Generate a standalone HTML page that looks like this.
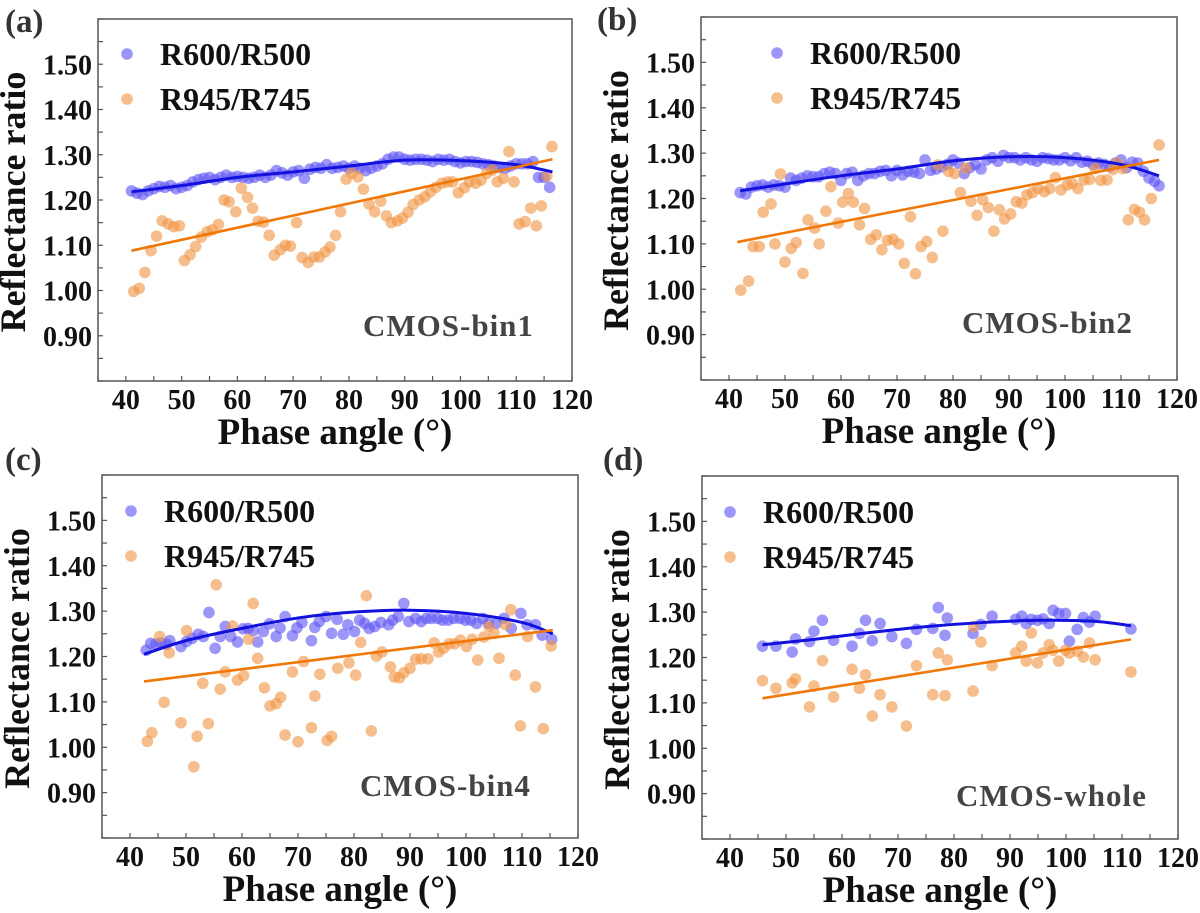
<!DOCTYPE html>
<html><head><meta charset="utf-8"><style>
html,body{margin:0;padding:0;background:#fff;}
svg{display:block;}
svg text{font-family:"Liberation Serif","DejaVu Serif",serif;font-weight:bold;}
</style></head><body>
<svg id="fig" width="1200" height="913" viewBox="0 0 1200 913" xmlns="http://www.w3.org/2000/svg"></svg>
<script>
// ---------- data ----------
const xTicks = [40,50,60,70,80,90,100,110,120];
const yTicks = [0.90,1.00,1.10,1.20,1.30,1.40,1.50];
const seriesNames = ["R600/R500","R945/R745"];

const aBlueX = [41,42,43,44,45,46,47,48,49,50,51,52,53,54,55,56,57,58,59,60,61,62,63,64,65,66,67,68,69,70,71,72,73,74,75,76,77,78,79,80,81,82,83,84,85,86,87,88,89,90,91,92,93,94,95,96,97,98,99,100,101,102,103,104,105,106,107,108,109,110,111,112,113,114,115,116];
const aBlueY = [1.22,1.215,1.212,1.22,1.225,1.23,1.228,1.232,1.225,1.228,1.232,1.24,1.245,1.248,1.25,1.245,1.25,1.255,1.25,1.252,1.25,1.248,1.25,1.255,1.25,1.255,1.265,1.26,1.255,1.262,1.265,1.248,1.268,1.272,1.27,1.278,1.27,1.272,1.275,1.27,1.275,1.27,1.265,1.27,1.275,1.28,1.29,1.295,1.295,1.29,1.288,1.29,1.29,1.288,1.285,1.29,1.288,1.29,1.285,1.282,1.285,1.285,1.283,1.28,1.278,1.275,1.272,1.27,1.275,1.28,1.28,1.28,1.285,1.25,1.25,1.228];
const aOrX = [41.4,42.4,43.4,44.5,45.5,46.5,47.6,48.6,49.6,50.5,51.5,52.5,53.5,54.6,55.5,56.6,57.6,58.5,59.7,60.7,61.8,62.7,63.7,64.7,65.7,66.6,67.7,68.6,69.5,70.6,71.6,72.7,73.7,74.7,75.7,76.6,77.6,78.5,79.5,80.5,81.6,82.6,83.6,84.6,85.7,86.7,87.6,88.7,89.6,90.6,91.5,92.6,93.6,94.6,95.6,96.7,97.7,98.6,99.6,100.7,101.6,102.7,103.7,104.7,105.7,106.6,107.7,108.7,109.6,110.5,111.6,112.6,113.6,114.5,115.5,116.4];
const aOrY = [0.998,1.005,1.04,1.088,1.12,1.154,1.147,1.141,1.143,1.066,1.079,1.097,1.118,1.13,1.134,1.146,1.2,1.196,1.174,1.226,1.206,1.182,1.153,1.151,1.122,1.078,1.09,1.1,1.098,1.15,1.073,1.062,1.074,1.074,1.085,1.096,1.122,1.174,1.246,1.259,1.251,1.224,1.191,1.174,1.197,1.165,1.15,1.154,1.16,1.173,1.19,1.2,1.207,1.218,1.228,1.237,1.24,1.24,1.216,1.227,1.24,1.237,1.244,1.259,1.266,1.24,1.248,1.307,1.24,1.147,1.152,1.182,1.143,1.187,1.253,1.318];
const aBlueFitX = [41,50,60,70,80,90,100,110,116.5];
const aBlueFitY = [1.218,1.232,1.25,1.262,1.275,1.288,1.287,1.278,1.262];
const aOrFitX = [41,116.5];
const aOrFitY = [1.088,1.29];

const bBlueX = [42,43,44,45,46,47,48,49,50,51,52,53,54,55,56,57,58,59,60,61,62,63,64,65,66,67,68,69,70,71,72,73,74,75,76,77,78,79,80,81,82,83,84,85,86,87,88,89,90,91,92,93,94,95,96,97,98,99,100,101,102,103,104,105,106,107,108,109,110,111,112,113,114,115,116,116.8];
const bBlueY = [1.213,1.21,1.225,1.228,1.23,1.225,1.23,1.228,1.225,1.245,1.24,1.245,1.25,1.248,1.248,1.255,1.258,1.255,1.24,1.255,1.258,1.24,1.25,1.255,1.255,1.26,1.262,1.25,1.262,1.252,1.26,1.258,1.255,1.285,1.262,1.265,1.27,1.275,1.285,1.278,1.255,1.268,1.275,1.265,1.285,1.29,1.282,1.295,1.29,1.29,1.285,1.29,1.285,1.282,1.29,1.288,1.285,1.285,1.29,1.283,1.29,1.28,1.282,1.275,1.278,1.275,1.27,1.278,1.285,1.268,1.28,1.278,1.26,1.245,1.238,1.228];
const bOrX = [42.1,43.5,44.3,45.4,46.1,47.5,48.2,49.2,50.0,51.1,52.0,53.2,54.1,55.3,56.1,57.3,58.2,59.5,60.3,61.3,62.2,63.3,64.2,65.3,66.3,67.3,68.3,69.3,70.3,71.3,72.4,73.3,74.3,75.3,76.3,77.3,78.2,79.2,80.3,81.3,82.3,83.2,84.3,85.3,86.3,87.3,88.3,89.2,90.3,91.3,92.3,93.2,94.2,95.2,96.3,97.3,98.3,99.3,100.4,101.3,102.3,103.4,104.4,105.4,106.4,107.5,108.6,109.3,110.3,111.3,112.4,113.3,114.2,115.4,116.8];
const bOrY = [0.998,1.018,1.094,1.094,1.17,1.188,1.1,1.254,1.06,1.09,1.103,1.035,1.153,1.135,1.1,1.172,1.226,1.146,1.192,1.211,1.192,1.142,1.178,1.11,1.12,1.087,1.108,1.11,1.1,1.057,1.16,1.034,1.094,1.105,1.07,1.274,1.128,1.26,1.255,1.213,1.267,1.194,1.163,1.197,1.18,1.128,1.175,1.155,1.166,1.193,1.19,1.208,1.213,1.222,1.215,1.222,1.246,1.219,1.23,1.233,1.222,1.241,1.242,1.266,1.24,1.241,1.264,1.278,1.266,1.153,1.176,1.17,1.153,1.2,1.318];
const bBlueFitX = [42,50,60,70,80,90,100,110,116.8];
const bBlueFitY = [1.217,1.232,1.25,1.265,1.283,1.292,1.29,1.275,1.25];
const bOrFitX = [41.5,116.8];
const bOrFitY = [1.104,1.285];

const cBlueX = [42.9,43.7,44.6,45.5,46.5,47.1,49.1,50.1,51.1,52.2,53.1,54.1,55.2,56.1,57.0,58.0,59.2,60.2,61.1,62.0,62.8,63.8,64.9,66.1,66.8,67.7,69.0,69.8,70.7,72.4,73.0,73.8,75.0,76.0,77.0,78.1,78.9,80.1,81.0,81.9,82.7,83.7,84.8,86.2,86.9,87.9,88.9,89.8,91.0,92.0,92.9,93.8,94.9,95.8,96.8,97.8,98.9,99.9,100.9,101.9,103.0,104.0,105.4,106.8,108.1,109.8,110.9,112.4,113.6,115.3];
const cBlueY = [1.214,1.229,1.227,1.23,1.227,1.235,1.222,1.233,1.24,1.249,1.244,1.297,1.218,1.244,1.266,1.244,1.232,1.261,1.262,1.257,1.232,1.255,1.272,1.244,1.263,1.288,1.246,1.263,1.275,1.235,1.264,1.277,1.288,1.251,1.282,1.249,1.27,1.255,1.28,1.273,1.262,1.266,1.275,1.27,1.28,1.288,1.317,1.277,1.284,1.277,1.284,1.284,1.284,1.28,1.28,1.284,1.284,1.28,1.28,1.273,1.284,1.273,1.273,1.284,1.262,1.295,1.27,1.27,1.247,1.238];
const cOrX = [43.1,43.9,45.3,46.1,47.0,49.1,50.1,52.0,51.4,53.0,54.0,55.4,56.1,57.0,58.3,59.2,60.3,61.2,62.0,62.8,64.0,65.0,66.1,66.9,67.7,69.0,70.0,71.0,72.4,73.0,73.9,75.2,76.0,77.1,79.1,80.3,81.2,82.2,83.1,84.0,85.0,86.5,87.2,88.1,88.9,90.0,91.0,92.0,93.2,94.3,95.1,96.0,97.0,98.0,99.0,100.1,101.1,102.1,103.2,104.1,105.0,105.9,107.1,108.0,108.8,109.7,111.0,112.4,113.8,115.2];
const cOrY = [1.013,1.032,1.244,1.099,1.208,1.054,1.257,1.024,0.957,1.141,1.052,1.358,1.128,1.166,1.267,1.148,1.158,1.238,1.317,1.196,1.131,1.091,1.096,1.11,1.027,1.166,1.012,1.189,1.043,1.113,1.161,1.015,1.024,1.174,1.186,1.159,1.231,1.334,1.036,1.201,1.21,1.177,1.155,1.153,1.164,1.174,1.194,1.195,1.195,1.23,1.21,1.218,1.228,1.228,1.236,1.222,1.238,1.192,1.243,1.266,1.251,1.196,1.27,1.303,1.159,1.047,1.244,1.133,1.041,1.223];
const cBlueFitX = [42.5,50,60,70,80,90,100,110,115.5];
const cBlueFitY = [1.205,1.235,1.262,1.285,1.298,1.302,1.295,1.275,1.25];
const cOrFitX = [42.5,115.5];
const cOrFitY = [1.145,1.258];

const dX = [45.8,48.2,51.1,51.7,54.2,55.0,56.5,58.5,61.8,63.1,64.2,65.4,66.8,68.9,71.5,73.3,76.2,77.2,78.4,78.8,83.4,84.8,86.8,91.0,92.1,92.9,93.8,94.9,95.9,97.0,97.7,98.7,99.9,100.6,102.0,103.1,104.2,105.2,111.6];
const dBlueY = [1.225,1.225,1.212,1.241,1.235,1.258,1.282,1.238,1.225,1.253,1.282,1.237,1.275,1.246,1.231,1.262,1.264,1.31,1.249,1.287,1.253,1.273,1.291,1.284,1.291,1.275,1.284,1.282,1.285,1.275,1.304,1.297,1.297,1.236,1.262,1.288,1.278,1.291,1.263];
const dOrX = [45.8,48.2,51.1,51.7,54.2,55.0,56.5,58.5,61.8,63.1,64.2,65.4,66.8,68.9,71.5,73.3,76.2,77.2,78.4,78.8,83.4,83.5,84.8,86.8,91.0,92.1,92.9,93.8,94.9,95.9,97.0,97.7,98.7,99.9,100.6,102.0,103.1,104.2,105.2,111.6];
const dOrY = [1.149,1.132,1.144,1.153,1.091,1.137,1.193,1.113,1.174,1.132,1.162,1.071,1.118,1.091,1.049,1.182,1.118,1.21,1.116,1.195,1.126,1.268,1.234,1.182,1.21,1.225,1.192,1.254,1.188,1.21,1.228,1.216,1.192,1.216,1.21,1.214,1.201,1.232,1.195,1.168];
const dBlueFitX = [45.8,55,65,75,85,95,105,111.6];
const dBlueFitY = [1.228,1.24,1.255,1.268,1.277,1.282,1.28,1.27];
const dOrFitX = [45.8,111.6];
const dOrFitY = [1.11,1.24];

// ---------- drawing ----------
const NS = "http://www.w3.org/2000/svg";
const svg = document.getElementById("fig");
const FONT = "Liberation Serif, DejaVu Serif, serif";
function mk(tag, parent, attrs){
  const e = document.createElementNS(NS, tag);
  for (const k in attrs) e.setAttribute(k, attrs[k]);
  if (tag === "text") { e.setAttribute("font-family", FONT); e.setAttribute("font-weight", "bold"); }
  parent.appendChild(e);
  return e;
}
const BLUE_DOT = "rgba(95,85,245,0.62)";
const OR_DOT = "rgba(240,150,70,0.62)";

function smoothPath(pts){
  let d = "M" + pts[0][0] + "," + pts[0][1];
  if (pts.length === 2) return d + " L" + pts[1][0] + "," + pts[1][1];
  for (let i = 0; i < pts.length - 1; i++){
    const p0 = pts[Math.max(i-1,0)], p1 = pts[i], p2 = pts[i+1], p3 = pts[Math.min(i+2,pts.length-1)];
    const c1x = p1[0] + (p2[0]-p0[0])/6, c1y = p1[1] + (p2[1]-p0[1])/6;
    const c2x = p2[0] - (p3[0]-p1[0])/6, c2y = p2[1] - (p3[1]-p1[1])/6;
    d += " C" + c1x + "," + c1y + " " + c2x + "," + c2y + " " + p2[0] + "," + p2[1];
  }
  return d;
}

function panel(p){
  const g = mk("g", svg, {});
  
  
  const X = v => p.L + (v - 35) / 85 * (p.R - p.L);
  const Y = v => p.B - (v - 0.8) / 0.8 * (p.B - p.T);

  const lab = mk("text", g, {x:p.labX, y:p.labY, "font-size":33, fill:"#333"});
  lab.textContent = "(" + p.id + ")";
  
  

  const frame = mk("rect", g, {x:p.L, y:p.T, width:p.R-p.L, height:p.B-p.T, fill:"none", stroke:"#555", "stroke-width":1.5});
  
  

  for (let v = 35; v <= 120; v += 5){
    const t = mk("line", g, {x1:X(v), x2:X(v), y1:p.B, y2:p.B-5, stroke:"#555", "stroke-width":1.2});
    
    
  }
  xTicks.forEach(v => {
    const t = mk("text", g, {x:X(v), y:p.B+28, "font-size":28, "text-anchor":"middle", fill:"#111"});
    t.textContent = v;
    
    
  });
  for (let k = 0; k <= 16; k++){
    const v = 0.8 + k*0.05;
    const t = mk("line", g, {x1:p.L, x2:p.L+5, y1:Y(v), y2:Y(v), stroke:"#555", "stroke-width":1.2});
    
    
  }
  yTicks.forEach(v => {
    const t = mk("text", g, {x:p.L-6, y:Y(v)+10, "font-size":28, "text-anchor":"end", fill:"#111"});
    t.textContent = v.toFixed(2);
    
    
  });
  const xt = mk("text", g, {x:(p.L+p.R)/2, y:p.B+63, "font-size":37, "text-anchor":"middle", fill:"#111"});
  xt.textContent = "Phase angle (°)";
  
  
  const yc = (p.T + p.B)/2 + 2;
  const yx = p.L - 73;
  const yt = mk("text", g, {x:yx, y:yc, "font-size":36, "text-anchor":"middle", fill:"#111", transform:"rotate(-90 " + yx + " " + yc + ")"});
  yt.textContent = "Reflectance ratio";
  
  

  const sb = mk("g", g, {});
  
  
  p.bx.forEach((x, i) => {
    const c = mk("circle", sb, {cx:X(x), cy:Y(p.by[i]), r:5.8, fill:BLUE_DOT});
    
    
  });
  const so = mk("g", g, {});
  
  
  p.ox.forEach((x, i) => {
    const c = mk("circle", so, {cx:X(x), cy:Y(p.oy[i]), r:5.8, fill:OR_DOT});
    
    
  });
  const bf = mk("path", g, {d:smoothPath(p.bfx.map((x,i)=>[X(x),Y(p.bfy[i])])), fill:"none", stroke:"#1212dc", "stroke-width":3});
  
  
  const of = mk("path", g, {d:smoothPath(p.ofx.map((x,i)=>[X(x),Y(p.ofy[i])])), fill:"none", stroke:"#f07808", "stroke-width":2.6});
  
  

  const lg = mk("g", g, {});
  
  
  [[BLUE_DOT, p.legY], [OR_DOT, p.legY+45]].forEach((e, i) => {
    const d = mk("circle", lg, {cx:p.legX, cy:e[1], r:5.8, fill:e[0]});
    
    
    const t = mk("text", lg, {x:p.legX+33, y:e[1]+11, "font-size":32, fill:"#111"});
    t.textContent = seriesNames[i];
    
    
  });
  const an = mk("text", g, {x:p.annX, y:p.annY, "font-size":31, fill:"#444", "letter-spacing":"1"});
  an.textContent = p.ann;
  
  
}

panel({id:"a", L:98, R:572, T:19, B:381, labX:5, labY:32, legX:127, legY:54, annX:363, annY:336, ann:"CMOS-bin1",
  bx:aBlueX, by:aBlueY, ox:aOrX, oy:aOrY, bfx:aBlueFitX, bfy:aBlueFitY, ofx:aOrFitX, ofy:aOrFitY});
panel({id:"b", L:701, R:1177, T:17, B:380, labX:597, labY:30, legX:777, legY:53, annX:962, annY:333, ann:"CMOS-bin2",
  bx:bBlueX, by:bBlueY, ox:bOrX, oy:bOrY, bfx:bBlueFitX, bfy:bBlueFitY, ofx:bOrFitX, ofy:bOrFitY});
panel({id:"c", L:102, R:578, T:475, B:838, labX:5, labY:470, legX:131, legY:511, annX:360, annY:796, ann:"CMOS-bin4",
  bx:cBlueX, by:cBlueY, ox:cOrX, oy:cOrY, bfx:cBlueFitX, bfy:cBlueFitY, ofx:cOrFitX, ofy:cOrFitY});
panel({id:"d", L:702, R:1178, T:476, B:839, labX:603, labY:470, legX:730, legY:512, annX:956, annY:806, ann:"CMOS-whole",
  bx:dX, by:dBlueY, ox:dOrX, oy:dOrY, bfx:dBlueFitX, bfy:dBlueFitY, ofx:dOrFitX, ofy:dOrFitY});
</script>
</body></html>
